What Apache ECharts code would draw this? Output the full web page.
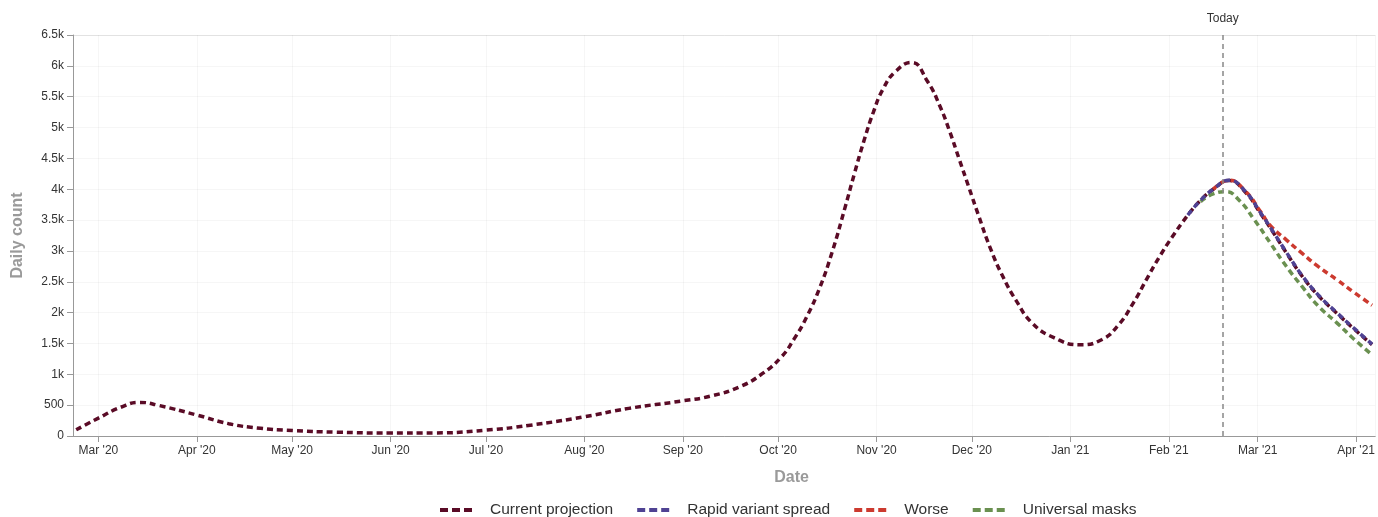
<!DOCTYPE html>
<html>
<head>
<meta charset="utf-8">
<title>Daily count projections</title>
<script src="https://cdn.jsdelivr.net/npm/echarts@6/dist/echarts.min.js"></script>
<style>
  html, body { margin: 0; padding: 0; background: #ffffff; }
  #chart { width: 1378px; height: 517px; }
</style>
</head>
<body>
<div id="chart"></div>
<script>
// Month names used for the date axis tick labels
const MONTHS = ['Jan', 'Feb', 'Mar', 'Apr', 'May', 'Jun', 'Jul', 'Aug', 'Sep', 'Oct', 'Nov', 'Dec'];

// Current projection: daily count by date
const currentDates = [
  '2020-02-23', '2020-03-01', '2020-03-08', '2020-03-14', '2020-03-20', '2020-04-01', '2020-04-11',
  '2020-04-21', '2020-05-01', '2020-05-15', '2020-06-01', '2020-06-15', '2020-07-01', '2020-07-15',
  '2020-08-01', '2020-08-15', '2020-09-01', '2020-09-10', '2020-09-19', '2020-09-26', '2020-10-02',
  '2020-10-06', '2020-10-10', '2020-10-14', '2020-10-18', '2020-10-22', '2020-10-25', '2020-10-28',
  '2020-10-31', '2020-11-03', '2020-11-07', '2020-11-12', '2020-11-17', '2020-11-21', '2020-11-24',
  '2020-11-27', '2020-11-30', '2020-12-03', '2020-12-07', '2020-12-11', '2020-12-15', '2020-12-20',
  '2020-12-27', '2021-01-04', '2021-01-11', '2021-01-16', '2021-01-21', '2021-01-25', '2021-01-29',
  '2021-02-02', '2021-02-07', '2021-02-11', '2021-02-15', '2021-02-20', '2021-02-25', '2021-03-02',
  '2021-03-06', '2021-03-10', '2021-03-15', '2021-03-20', '2021-03-26', '2021-03-31', '2021-04-06'
];
const currentValues = [
  100, 290, 465, 545, 495, 340, 200,
  125, 88, 62, 48, 50, 95, 175,
  312, 448, 570, 650, 800, 1010, 1280,
  1570, 1930, 2390, 2980, 3690, 4250, 4780,
  5250, 5620, 5910, 6055, 5750, 5340, 4940,
  4490, 4040, 3590, 3020, 2560, 2190, 1830,
  1590, 1478, 1565, 1790, 2170, 2540, 2900,
  3220, 3580, 3820, 4000, 4140, 3960, 3600,
  3290, 2970, 2590, 2280, 1985, 1750, 1480
];

// Scenario projections
const rapidDates = ['2021-02-07', '2021-02-11', '2021-02-15', '2021-02-20', '2021-02-25', '2021-03-02',
  '2021-03-06', '2021-03-10', '2021-03-15', '2021-03-20', '2021-03-26', '2021-03-31', '2021-04-06'];
const rapidValues = [3580, 3820, 4000, 4145, 3970, 3610, 3300, 2980, 2600, 2290, 1995, 1760, 1490];

const worseDates = ['2021-02-15', '2021-02-20', '2021-02-25', '2021-03-02', '2021-03-05', '2021-03-10',
  '2021-03-15', '2021-03-20', '2021-03-26', '2021-03-31', '2021-04-06'];
const worseValues = [4000, 4145, 3975, 3630, 3410, 3180, 2960, 2750, 2530, 2340, 2120];

const masksDates = ['2021-02-11', '2021-02-15', '2021-02-19', '2021-02-23', '2021-02-28', '2021-03-05',
  '2021-03-10', '2021-03-15', '2021-03-20', '2021-03-26', '2021-03-31', '2021-04-06'];
const masksValues = [3800, 3925, 3960, 3830, 3500, 3125, 2750, 2420, 2110, 1830, 1585, 1315];

const TODAY = '2021-02-18';
const Y_MAX = 6500;
const Y_STEP = 500;

function zip(dates, values) {
  return dates.map(function (d, i) { return [d, values[i]]; });
}

const SERIES_NAMES = ['Current projection', 'Rapid variant spread', 'Worse', 'Universal masks'];
const COLORS = {
  'Current projection': '#5a0b26',
  'Rapid variant spread': '#4f4293',
  'Worse': '#cc3a2f',
  'Universal masks': '#6a9050'
};

function dashed(name, data, z, extra) {
  return Object.assign({
    name: name,
    type: 'line',
    data: data,
    z: z,
    smooth: 0.5,
    showSymbol: false,
    symbol: 'none',
    color: COLORS[name],
    itemStyle: { color: COLORS[name] },
    lineStyle: { color: COLORS[name], width: 3.5, type: [6, 4] },
    emphasis: { disabled: true }
  }, extra || {});
}

const yLineCount = Y_MAX / Y_STEP + 1;
const ySplitColors = [];
for (let i = 0; i < yLineCount; i++) {
  ySplitColors.push(i === yLineCount - 1 ? '#e2e2e2' : 'rgba(0,0,0,0.035)');
}

const FONT = '"Liberation Sans", Arial, sans-serif';

const chart = echarts.init(document.getElementById('chart'), null, { renderer: 'canvas' });

chart.setOption({
  animation: false,
  backgroundColor: '#ffffff',
  textStyle: { fontFamily: FONT },
  grid: { left: 73, right: 2, top: 35, bottom: 81, containLabel: false },
  legend: {
    data: SERIES_NAMES,
    left: 435,
    top: 497,
    itemWidth: 32,
    itemHeight: 5,
    itemGap: 24,
    icon: 'path://M0,0h8v4h-8z M12,0h8v4h-8z M24,0h8v4h-8z',
    textStyle: { fontSize: 15.5, color: '#333333', fontFamily: FONT, padding: [0, 0, 0, 13] },
    selectedMode: false
  },
  xAxis: {
    type: 'time',
    min: '2020-02-22',
    max: '2021-04-07',
    minInterval: 28 * 86400000,
    maxInterval: 31 * 86400000,
    name: 'Date',
    nameLocation: 'middle',
    nameGap: 34,
    nameTextStyle: { fontSize: 16, fontWeight: 'bold', color: '#9a9a9a', padding: [0, 0, 0, 135] },
    axisLine: { show: true, lineStyle: { color: '#999999', width: 1 } },
    axisTick: { show: true, inside: false, length: 6, lineStyle: { color: '#999999' } },
    minorTick: { show: false },
    axisLabel: {
      color: '#333333',
      fontSize: 12,
      margin: 9,
      showMinLabel: false,
      showMaxLabel: false,
      hideOverlap: false,
      formatter: function (v) {
        const d = new Date(v);
        return MONTHS[d.getMonth()] + " '" + String(d.getFullYear()).slice(2);
      }
    },
    splitLine: { show: true, lineStyle: { color: 'rgba(0,0,0,0.035)', width: 1 } }
  },
  yAxis: {
    type: 'value',
    min: 0,
    max: Y_MAX,
    interval: Y_STEP,
    name: 'Daily count',
    nameLocation: 'middle',
    nameRotate: 90,
    nameGap: 47,
    nameTextStyle: { fontSize: 16, fontWeight: 'bold', color: '#9a9a9a' },
    axisLine: { show: true, lineStyle: { color: '#999999', width: 1 } },
    axisTick: { show: true, inside: false, length: 6, lineStyle: { color: '#999999' } },
    axisLabel: {
      color: '#333333',
      fontSize: 12,
      margin: 9,
      formatter: function (v) {
        if (v === 0) return '0';
        if (v < 1000) return String(v);
        return (v / 1000) + 'k';
      }
    },
    splitLine: { show: true, lineStyle: { color: ySplitColors, width: 1 } }
  },
  series: [
    dashed('Current projection', zip(currentDates, currentValues), 2, {
      markLine: {
        silent: true,
        symbol: 'none',
        animation: false,
        lineStyle: { color: '#888888', width: 1.5, type: [5, 4] },
        label: {
          show: true,
          position: 'end',
          formatter: 'Today',
          color: '#333333',
          fontSize: 12,
          fontFamily: FONT,
          distance: 10
        },
        data: [{ xAxis: TODAY }]
      }
    }),
    dashed('Universal masks', zip(masksDates, masksValues), 3),
    dashed('Worse', zip(worseDates, worseValues), 4),
    dashed('Rapid variant spread', zip(rapidDates, rapidValues), 5)
  ]
});
</script>
</body>
</html>
